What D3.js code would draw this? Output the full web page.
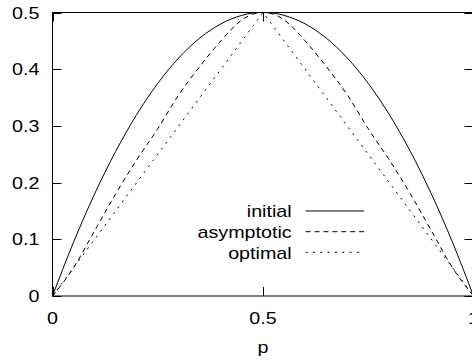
<!DOCTYPE html>
<html>
<head>
<meta charset="utf-8">
<script src="https://cdn.jsdelivr.net/npm/d3@7"></script>
<style>
  html, body { margin: 0; padding: 0; background: #fff; }
  svg { display: block; }
  text { font-family: "Liberation Sans", Arial, Helvetica, sans-serif; font-size: 17px; fill: #000; }
</style>
</head>
<body>
<svg id="chart" width="472" height="362"></svg>
<script>
// Sample points along p
const pGrid = [0, 0.05, 0.1, 0.15, 0.2, 0.25, 0.3, 0.35, 0.4, 0.45, 0.475, 0.5,
               0.525, 0.55, 0.6, 0.65, 0.7, 0.75, 0.8, 0.85, 0.9, 0.95, 1];
const initialValues = [0, 0.095, 0.18, 0.255, 0.32, 0.375, 0.42, 0.455, 0.48, 0.495, 0.499, 0.5,
                       0.499, 0.495, 0.48, 0.455, 0.42, 0.375, 0.32, 0.255, 0.18, 0.095, 0];
const asymptoticValues = [0, 0.05, 0.115, 0.18, 0.24, 0.295, 0.355, 0.405, 0.45, 0.487, 0.497, 0.5,
                          0.497, 0.487, 0.45, 0.405, 0.355, 0.295, 0.24, 0.18, 0.115, 0.05, 0];
const optimalP = [0, 0.5, 1];
const optimalValues = [0, 0.5, 0];

const xTicks = [0, 0.5, 1];
const xTickLabels = ["0", "0.5", "1"];
const yTicks = [0, 0.1, 0.2, 0.3, 0.4, 0.5];
const yTickLabels = ["0", "0.1", "0.2", "0.3", "0.4", "0.5"];
const xLabel = "p";
const legendNames = ["initial", "asymptotic", "optimal"];

const dashes = { initial: null, asymptotic: "5,3.9", optimal: "2,5.3" };

const svg = d3.select("#chart");
const x = d3.scaleLinear().domain([0, 1]).range([52.5, 473.5]);
const y = d3.scaleLinear().domain([0, 0.5]).range([296, 12.5]);
const tickLen = 9;
const stretch = 1.16;

function label(tx, ty, str, anchor) {
  svg.append("text")
    .attr("transform", `translate(${tx},${ty}) scale(${stretch},1)`)
    .attr("text-anchor", anchor)
    .text(str);
}

// Plot frame
svg.append("rect")
  .attr("x", x(0)).attr("y", y(0.5))
  .attr("width", x(1) - x(0)).attr("height", y(0) - y(0.5))
  .attr("fill", "none").attr("stroke", "#000").attr("stroke-width", 1);

// Inward ticks on all four sides
const tickG = svg.append("g").attr("stroke", "#000").attr("stroke-width", 1);
yTicks.forEach(v => {
  const yy = Math.round(y(v)) + 0.5;
  tickG.append("line").attr("x1", x(0)).attr("x2", x(0) + tickLen).attr("y1", yy).attr("y2", yy);
  tickG.append("line").attr("x1", x(1)).attr("x2", x(1) - tickLen).attr("y1", yy).attr("y2", yy);
});
xTicks.forEach(v => {
  const xx = Math.round(x(v)) + 0.5;
  tickG.append("line").attr("x1", xx).attr("x2", xx).attr("y1", y(0)).attr("y2", y(0) - tickLen);
  tickG.append("line").attr("x1", xx).attr("x2", xx).attr("y1", y(0.5)).attr("y2", y(0.5) + tickLen);
});

// Tick labels
yTicks.forEach((v, i) => label(39.5, y(v) + 6, yTickLabels[i], "end"));
xTicks.forEach((v, i) => label(x(v), 324, xTickLabels[i], "middle"));
label(x(0.5), 352.5, xLabel, "middle");

// Curves
const smooth = d3.line().x(d => x(d[0])).y(d => y(d[1])).curve(d3.curveMonotoneX);
const straight = d3.line().x(d => x(d[0])).y(d => y(d[1]));

const series = [
  { name: "initial", pts: d3.zip(pGrid, initialValues), gen: smooth },
  { name: "asymptotic", pts: d3.zip(pGrid, asymptoticValues), gen: smooth },
  { name: "optimal", pts: d3.zip(optimalP, optimalValues), gen: straight }
];

series.forEach(s => {
  svg.append("path")
    .attr("d", s.gen(s.pts))
    .attr("fill", "none")
    .attr("stroke", "#000")
    .attr("stroke-width", 1)
    .attr("stroke-dasharray", dashes[s.name]);
});

// Legend
const legendBaselines = [217.3, 238, 258.6];
legendNames.forEach((name, i) => {
  const by = legendBaselines[i];
  label(291.7, by, name, "end");
  svg.append("line")
    .attr("x1", 305.7).attr("x2", 364)
    .attr("y1", by - 6.3).attr("y2", by - 6.3)
    .attr("stroke", "#000").attr("stroke-width", 1)
    .attr("stroke-dasharray", dashes[name]);
});
</script>
</body>
</html>
